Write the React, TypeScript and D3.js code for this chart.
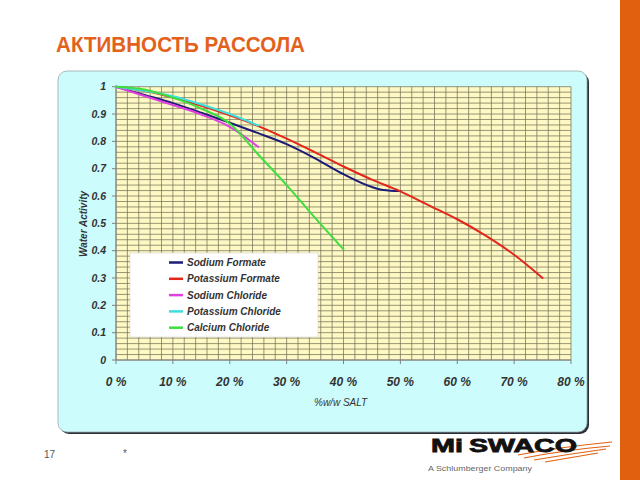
import React from 'react';
import * as d3 from 'd3';

// values (x = %w/w salt, y = water activity)
const seriesNames = ['Sodium Formate', 'Potassium Formate', 'Sodium Chloride', 'Potassium Chloride', 'Calcium Chloride'];
const seriesColors = ['#1c1c78', '#e3261a', '#e040e0', '#3fdede', '#3ede3e'];

const sodiumFormateX = [0, 5, 10, 15, 20, 25, 30, 35, 40, 45, 47, 50];
const sodiumFormateY = [1, 0.97, 0.94, 0.905, 0.868, 0.83, 0.79, 0.738, 0.68, 0.633, 0.622, 0.618];

const potassiumFormateX = [0, 5, 10, 15, 20, 25, 30, 35, 40, 45, 50, 55, 60, 65, 70, 75];
const potassiumFormateY = [1, 0.985, 0.96, 0.93, 0.895, 0.856, 0.81, 0.76, 0.708, 0.66, 0.617, 0.566, 0.515, 0.455, 0.385, 0.3];

const sodiumChlorideX = [0, 5, 10, 15, 20, 25];
const sodiumChlorideY = [1, 0.966, 0.933, 0.898, 0.853, 0.78];

const potassiumChlorideX = [0, 5, 10, 15, 20, 25];
const potassiumChlorideY = [1, 0.985, 0.965, 0.935, 0.9, 0.858];

const calciumChlorideX = [0, 5, 10, 15, 20, 25, 30, 35, 40];
const calciumChlorideY = [1, 0.99, 0.96, 0.92, 0.865, 0.752, 0.64, 0.52, 0.405];

const xTickValues = [0, 10, 20, 30, 40, 50, 60, 70, 80];
const xTickLabels = ['0 %', '10 %', '20 %', '30 %', '40 %', '50 %', '60 %', '70 %', '80 %'];
const yTickValues = [0, 0.1, 0.2, 0.3, 0.4, 0.5, 0.6, 0.7, 0.8, 0.9, 1];
const yTickLabels = ['0', '0.1', '0.2', '0.3', '0.4', '0.5', '0.6', '0.7', '0.8', '0.9', '1'];

const seriesX = [sodiumFormateX, potassiumFormateX, sodiumChlorideX, potassiumChlorideX, calciumChlorideX];
const seriesY = [sodiumFormateY, potassiumFormateY, sodiumChlorideY, potassiumChlorideY, calciumChlorideY];

const App: React.FC = () => {
  const plot = { left: 116, right: 571, top: 86.7, bottom: 360 };

  const x = d3.scaleLinear().domain([0, 80]).range([plot.left, plot.right]);
  const y = d3.scaleLinear().domain([0, 1]).range([plot.bottom, plot.top]);

  const line = d3.line<[number, number]>()
    .x(d => x(d[0]))
    .y(d => y(d[1]))
    .curve(d3.curveMonotoneX);

  const font = 'Liberation Sans, Arial, sans-serif';
  const gridColor = '#6f6c52';

  return (
    <svg width={640} height={480} style={{ position: 'absolute', left: 0, top: 0, background: '#fff' }} fontFamily={font}>
      {/* orange side bar */}
      <rect x={620} y={0} width={20} height={480} fill="#e1600f" />

      {/* title */}
      <text x={56} y={52} fontSize={22} fontWeight="bold" fill="#e2621c" textLength={249} lengthAdjust="spacingAndGlyphs">
        АКТИВНОСТЬ РАССОЛА
      </text>

      {/* chart panel with shadow */}
      <rect x={60} y={73} width={529} height={361} rx={9} fill="#2b3038" />
      <rect x={58} y={71} width={529} height={361} rx={9} fill="#ccfcfc" stroke="#9aa8aa" strokeWidth={0.8} />

      {/* plot area */}
      <rect x={plot.left} y={plot.top} width={plot.right - plot.left} height={plot.bottom - plot.top} fill="#fdf8c4" />
      <g stroke={gridColor} strokeWidth={0.7}>
        {x.ticks(40).map(t => (
          <line key={'vx' + t} x1={x(t)} x2={x(t)} y1={plot.top} y2={plot.bottom} />
        ))}
        {y.ticks(40).map(t => (
          <line key={'hy' + t} x1={plot.left} x2={plot.right} y1={y(t)} y2={y(t)} />
        ))}
      </g>

      {/* axes */}
      <line x1={plot.left} x2={plot.left} y1={plot.top} y2={plot.bottom} stroke="#808080" strokeWidth={1} />
      <line x1={plot.left} x2={plot.right} y1={plot.bottom} y2={plot.bottom} stroke="#808080" strokeWidth={1} />
      <g stroke="#808080" strokeWidth={1}>
        {yTickValues.map(t => (
          <line key={'yt' + t} x1={plot.left - 4} x2={plot.left} y1={y(t)} y2={y(t)} />
        ))}
        {xTickValues.map(t => (
          <line key={'xt' + t} x1={x(t)} x2={x(t)} y1={plot.bottom} y2={plot.bottom + 4} />
        ))}
      </g>
      <g fontSize={10.5} fontWeight="bold" fontStyle="italic" fill="#333" textAnchor="end">
        {yTickValues.map((t, i) => (
          <text key={'yl' + t} x={106} y={y(t)} dy="0.35em">{yTickLabels[i]}</text>
        ))}
      </g>
      <g fontSize={12} fontWeight="bold" fontStyle="italic" fill="#333" textAnchor="middle">
        {xTickValues.map((t, i) => (
          <text key={'xl' + t} x={x(t)} y={386}>{xTickLabels[i]}</text>
        ))}
      </g>
      <text x={314} y={406} fontSize={10} fontStyle="italic" fill="#333">%w/w SALT</text>
      <text transform="translate(87,224) rotate(-90)" fontSize={10} fontWeight="bold" fontStyle="italic" fill="#333" textAnchor="middle">
        Water Activity
      </text>

      {/* series */}
      <g fill="none" strokeWidth={2} strokeLinejoin="round" strokeLinecap="round">
        {seriesNames.map((name, i) => (
          <path key={name} d={line(seriesX[i].map((v, j) => [v, seriesY[i][j]] as [number, number])) || ''} stroke={seriesColors[i]} />
        ))}
      </g>

      {/* legend */}
      <rect x={130} y={253} width={188} height={84} fill="#fff" stroke="#d8d8d8" strokeWidth={0.6} />
      {seriesNames.map((name, i) => (
        <g key={'lg' + name} transform={`translate(0, ${262.5 + i * 16.3})`}>
          <line x1={169} x2={183} y1={0} y2={0} stroke={seriesColors[i]} strokeWidth={2.5} />
          <text x={187} y={0} dy="0.35em" fontSize={10} fontWeight="bold" fontStyle="italic" fill="#333">{name}</text>
        </g>
      ))}

      {/* footer */}
      <text x={44} y={458} fontSize={10} fill="#555">17</text>
      <text x={123} y={457} fontSize={10} fill="#555">*</text>

      {/* logo */}
      <g stroke="#e1600f" strokeWidth={1.2} fill="none">
        <path d="M518,455 Q560,447 612,442" />
        <path d="M524,458 Q565,450 610,446" />
        <path d="M534,460 Q570,454 606,449" />
        <path d="M545,462 Q575,457 598,453" />
      </g>
      <g fontSize={19} fontWeight="bold" fill="#111" stroke="#111" strokeWidth={0.8}>
        <text x={431} y={452} textLength={32} lengthAdjust="spacingAndGlyphs">Mi</text>
        <text x={469} y={452} textLength={108} lengthAdjust="spacingAndGlyphs">SWACO</text>
      </g>
      <text x={428} y={471} fontSize={8} fill="#666" textLength={104} lengthAdjust="spacingAndGlyphs">A Schlumberger Company</text>
    </svg>
  );
};

export default App;
